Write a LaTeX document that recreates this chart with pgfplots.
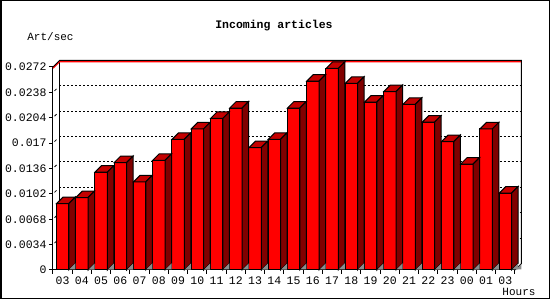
\documentclass[border=0pt]{standalone}
\usepackage{pgfplots}
\pgfplotsset{compat=1.18}
\usepackage{pgfplotstable}
\usepackage{fontspec}
\setmainfont{Liberation Mono}
\definecolor{frontred}{HTML}{FF0000}
\definecolor{topred}{HTML}{C40000}
\definecolor{sidered}{HTML}{800000}
\definecolor{floorgray}{HTML}{8C8C8C}
\pgfplotstableread{
x v
0 0.0089
1 0.0097
2 0.0131
3 0.0144
4 0.0118
5 0.0147
6 0.0175
7 0.0189
8 0.0203
9 0.0217
10 0.0164
11 0.0175
12 0.0217
13 0.0253
14 0.0270
15 0.0250
16 0.0225
17 0.0239
18 0.0222
19 0.0198
20 0.0172
21 0.0142
22 0.0189
23 0.0103
}\datatable
\begin{document}
\begin{tikzpicture}[x=1pt,y=1pt]
\begin{axis}[
  at={(53pt,30pt)}, anchor=south west,
  scale only axis, width=462pt, height=203pt,
  xmin=-0.5, xmax=23.5, ymin=0, ymax=0.0272,
  clip=false,
  scaled y ticks=false,
  axis x line*=bottom, axis y line*=left,
  axis line style={line width=1pt,-},
  tick align=outside,
  major tick length=0pt,
  minor tick length=4pt,
  every tick/.style={black,line width=1pt},
  xtick={0,1,...,23},
  xticklabels={03,04,05,06,07,08,09,10,11,12,13,14,15,16,17,18,19,20,21,22,23,00,01,03},
  minor xtick={-0.5,0.5,...,23.5},
  ytick={0,0.0034,0.0068,0.0102,0.0136,0.017,0.0204,0.0238,0.0272},
  yticklabels={0,0.0034,0.0068,0.0102,0.0136,0.017,0.0204,0.0238,0.0272},
  minor ytick={0,0.0034,0.0068,0.0102,0.0136,0.017,0.0204,0.0238,0.0272},
  xticklabel style={font=\fontsize{11.5pt}{13pt}\selectfont, yshift=-3pt},
  yticklabel style={font=\fontsize{11.5pt}{13pt}\selectfont, xshift=-3pt},
]
% back wall grid (dashed)
\pgfplotsinvokeforeach{0.0034,0.0068,0.0102,0.0136,0.017,0.0204,0.0238}{
  \draw[black, line width=1pt, dash pattern=on 2pt off 2pt]
    ([shift={(6.5pt,6.5pt)}]axis cs:-0.5,#1) -- ([shift={(6.5pt,6.5pt)}]axis cs:23.5,#1);
  \draw[black, line width=0.8pt]
    ([shift={(1.5pt,1.5pt)}]axis cs:-0.5,#1) -- ([shift={(3.5pt,3.5pt)}]axis cs:-0.5,#1);
}
% back wall frame
\draw[black, line width=1pt] ([shift={(6.5pt,6.5pt)}]axis cs:-0.5,0) -- ([shift={(6.5pt,6.5pt)}]axis cs:-0.5,0.0272);
\draw[frontred, line width=1.2pt] ([shift={(0pt,-1.2pt)}]axis cs:-0.5,0.0272) -- ([shift={(6.5pt,5.3pt)}]axis cs:-0.5,0.0272) -- ([shift={(6.5pt,5.3pt)}]axis cs:23.5,0.0272);
\draw[black, line width=1pt] (axis cs:-0.5,0.0272) -- ([shift={(6.5pt,6.5pt)}]axis cs:-0.5,0.0272) -- ([shift={(6.5pt,6.5pt)}]axis cs:23.5,0.0272) -- ([shift={(6.5pt,6.5pt)}]axis cs:23.5,0) -- (axis cs:23.5,0);
\fill[floorgray] ([shift={(1pt,0.5pt)}]axis cs:23.5,0) -- ([shift={(6.5pt,6pt)}]axis cs:23.5,0) -- ([shift={(6.5pt,0.5pt)}]axis cs:23.5,0) -- cycle;
% front faces
\addplot[ybar, bar width=12.3pt, bar shift=0pt, fill=frontred, draw=black, line width=1pt] table[x=x,y=v] {\datatable};
% top and side faces
\addplot[only marks, scatter, mark=*, mark size=0pt, mark options={draw=none,fill=none},
  visualization depends on={rawy \as \rv},
  scatter/@pre marker code/.code={%
    \pgfmathsetmacro\hh{\rv*7463.235}%
    \filldraw[fill=topred, draw=black, line width=1pt, line join=miter]
      (-6.15pt,0pt) -- (0.35pt,6.5pt) -- (12.65pt,6.5pt) -- (6.15pt,0pt) -- cycle;
    \filldraw[fill=sidered, draw=black, line width=1pt]
      (6.15pt,0pt) -- (12.65pt,6.5pt) -- (12.65pt,-\hh pt+6.5pt) -- (6.15pt,-\hh pt) -- cycle;
    \filldraw[fill=floorgray, draw=none]
      (6.65pt,-\hh pt+0.5pt) -- (12.65pt,-\hh pt+6.5pt) -- (12.65pt,-\hh pt+0.5pt) -- cycle;
  },
  scatter/@post marker code/.code={},
] table[x=x,y=v] {\datatable};
\end{axis}
\node[font=\bfseries\fontsize{11.5pt}{13pt}\selectfont] at (274pt,274pt) {Incoming articles};
\node[font=\fontsize{11pt}{12pt}\selectfont] at (50.5pt,263pt) {Art/sec};
\node[font=\fontsize{11pt}{12pt}\selectfont] at (519pt,8pt) {Hours};
\draw[black, line width=1.5pt] (0.75pt,1.5pt) rectangle (549.25pt,299.25pt);
\pgfresetboundingbox
\path (0,0) rectangle (550pt,300pt);
\end{tikzpicture}
\end{document}
